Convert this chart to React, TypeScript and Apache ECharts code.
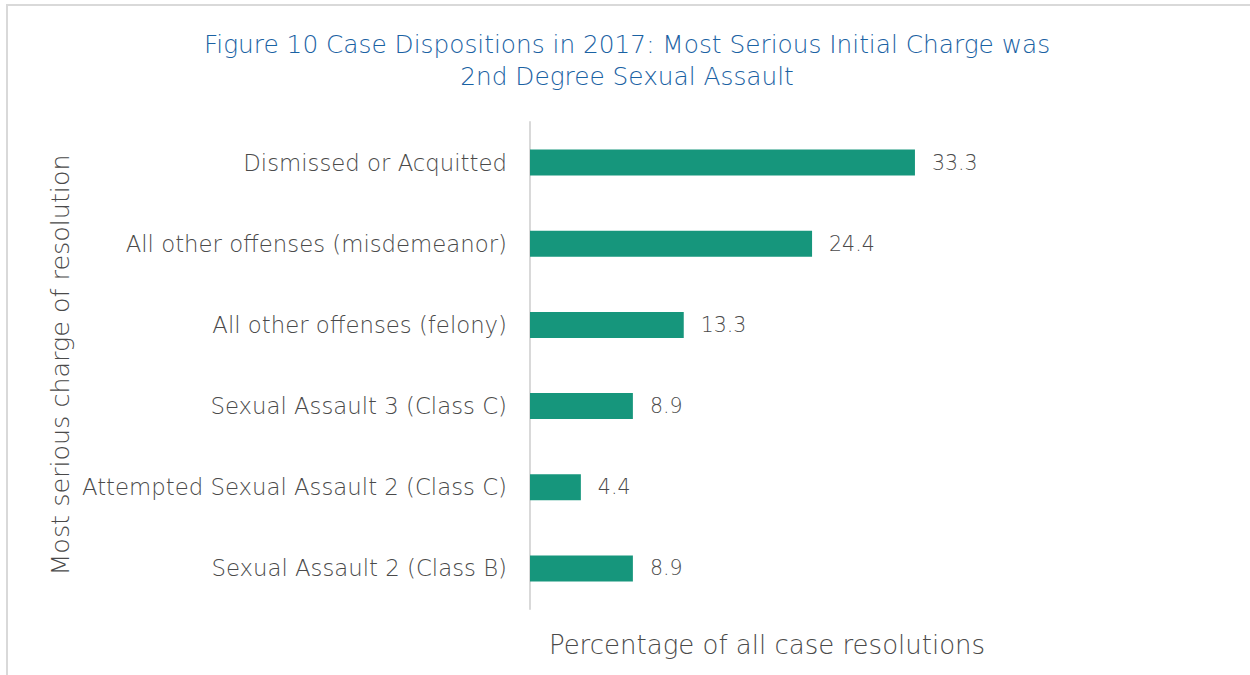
import React, { useEffect, useRef } from "react";
import * as echarts from "echarts";

const categories = [
  "Dismissed or Acquitted",
  "All other offenses (misdemeanor)",
  "All other offenses (felony)",
  "Sexual Assault 3 (Class C)",
  "Attempted Sexual Assault 2 (Class C)",
  "Sexual Assault 2 (Class B)",
];
const values = [33.3, 24.4, 13.3, 8.9, 4.4, 8.9];

const titleLines = [
  "Figure 10 Case Dispositions in 2017: Most Serious Initial Charge was",
  "2nd Degree Sexual Assault",
];
const xAxisName = "Percentage of all case resolutions";
const yAxisName = "Most serious charge of resolution";

const FONT = "'DejaVu Sans', sans-serif";
const GRAY = "#4a4a4a";

export default function App() {
  const ref = useRef<HTMLDivElement>(null);
  useEffect(() => {
    if (!ref.current) return;
    const chart = echarts.init(ref.current, undefined, { renderer: "svg" });
    chart.setOption({
      animation: false,
      backgroundColor: "#ffffff",
      title: {
        text: titleLines.join("\n"),
        left: 622,
        textAlign: "center",
        top: 23,
        textStyle: {
          color: "#1A62A3",
          fontSize: 24.8,
          fontWeight: 200,
          fontFamily: FONT,
          lineHeight: 32,
        },
      },
      graphic: [
        {
          type: "polyline",
          shape: { points: [[7, 680], [7, 5], [1260, 5]] },
          style: { stroke: "#d9d9d9", lineWidth: 2, fill: "none" },
          silent: true,
        },
        {
          type: "text",
          x: 60,
          y: 365,
          rotation: Math.PI / 2,
          style: {
            text: yAxisName,
            fill: GRAY,
            font: `200 25.4px ${FONT}`,
            align: "center",
            verticalAlign: "middle",
          },
        },
        {
          type: "text",
          x: 767,
          y: 645,
          style: {
            text: xAxisName,
            fill: GRAY,
            font: `200 26px ${FONT}`,
            align: "center",
            verticalAlign: "middle",
          },
        },
      ],
      grid: { left: 530, top: 122, width: 462.4, height: 487, containLabel: false },
      xAxis: {
        type: "value",
        min: 0,
        max: 40,
        show: false,
      },
      yAxis: {
        type: "category",
        data: categories,
        inverse: true,
        axisLine: { show: true, lineStyle: { color: "#d9d9d9", width: 2 } },
        axisTick: { show: false },
        axisLabel: {
          color: GRAY,
          fontSize: 22.8,
          fontWeight: 200,
          fontFamily: FONT,
          margin: 23,
        },
      },
      series: [
        {
          type: "bar",
          data: values,
          barWidth: 26,
          itemStyle: { color: "#16967C" },
          label: {
            show: true,
            position: "right",
            distance: 17,
            color: GRAY,
            fontSize: 20.5,
            fontWeight: 200,
            fontFamily: FONT,
            formatter: (p: any) => p.value.toFixed(1),
          },
        },
      ],
    });
    return () => chart.dispose();
  }, []);
  return (
    <div
      ref={ref}
      style={{ position: "fixed", left: 0, top: 0, width: 1250, height: 675 }}
    />
  );
}
